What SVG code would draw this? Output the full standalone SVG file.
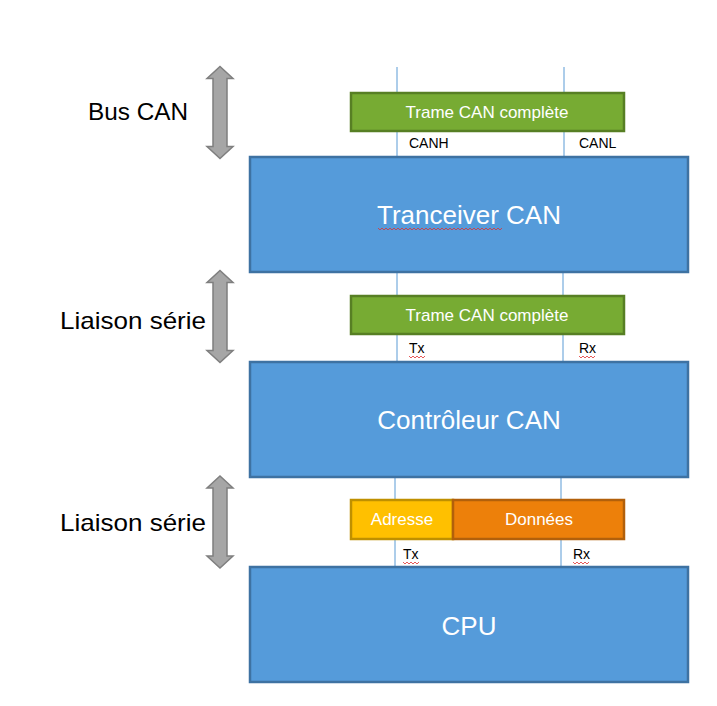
<svg xmlns="http://www.w3.org/2000/svg" width="717" height="706" viewBox="0 0 717 706">
<style>
.blk{fill:#559BDA;stroke:#3E72A2;stroke-width:2.5}
.grn{fill:#77AB33;stroke:#577F24;stroke-width:2.5}
.wire{stroke:#5B9BD5;stroke-width:1;fill:none}
.arr{fill:#A6A6A6;stroke:#7F7F7F;stroke-width:1.5}
.big{font-family:"Liberation Sans",Arial,sans-serif;font-size:26px;fill:#fff;text-anchor:middle}
.mid{font-family:"Liberation Sans",Arial,sans-serif;font-size:17px;fill:#fff;text-anchor:middle}
.sm{font-family:"Liberation Sans",Arial,sans-serif;font-size:14px;fill:#000}
.side{font-family:"Liberation Sans",Arial,sans-serif;font-size:24px;fill:#000}
.sq{fill:none;stroke:#E03030;stroke-width:0.8}
</style>
<defs>
<path id="dbl" d="M0,-46 L13,-34 L7,-34 L7,34 L13,34 L0,46 L-13,34 L-7,34 L-7,-34 L-13,-34 Z"/>
</defs>
<g id="connectors">
<line class="wire" x1="397" y1="67" x2="397" y2="157"/>
<line class="wire" x1="564" y1="67" x2="564" y2="157"/>
<line class="wire" x1="397" y1="272" x2="397" y2="362"/>
<line class="wire" x1="563" y1="272" x2="563" y2="362"/>
<line class="wire" x1="395" y1="477" x2="395" y2="567"/>
<line class="wire" x1="561" y1="477" x2="561" y2="567"/>
</g>
<g id="arrow-bus"><use href="#dbl" class="arr" transform="translate(220,112.5)"/></g>
<g id="arrow-serie1"><use href="#dbl" class="arr" transform="translate(220,316.5)"/></g>
<g id="arrow-serie2"><use href="#dbl" class="arr" transform="translate(220,522)"/></g>
<g id="label-bus"><text class="side" x="88" y="120" textLength="100" lengthAdjust="spacingAndGlyphs">Bus CAN</text></g>
<g id="label-serie1"><text class="side" x="60" y="329" textLength="146" lengthAdjust="spacingAndGlyphs">Liaison série</text></g>
<g id="label-serie2"><text class="side" x="60" y="531" textLength="146" lengthAdjust="spacingAndGlyphs">Liaison série</text></g>
<g id="frame1">
<rect class="grn" x="351" y="93" width="273" height="38"/>
<text class="mid" x="487" y="118">Trame CAN complète</text>
</g>
<g id="pins1">
<text class="sm" x="409" y="148">CANH</text>
<text class="sm" x="579" y="148">CANL</text>
</g>
<g id="tranceiver">
<rect class="blk" x="250" y="157" width="438" height="115"/>
<text class="big" x="469" y="224">Tranceiver CAN</text>
<polyline class="sq" points="378,228 380,230 382,228 384,230 386,228 388,230 390,228 392,230 394,228 396,230 398,228 400,230 402,228 404,230 406,228 408,230 410,228 412,230 414,228 416,230 418,228 420,230 422,228 424,230 426,228 428,230 430,228 432,230 434,228 436,230 438,228 440,230 442,228 444,230 446,228 448,230 450,228 452,230 454,228 456,230 458,228 460,230 462,228 464,230 466,228 468,230 470,228 472,230 474,228 476,230 478,228 480,230 482,228 484,230 486,228 488,230 490,228 492,230 494,228 496,230 498,228 500,230 502,228"/>
</g>
<g id="frame2">
<rect class="grn" x="351" y="296" width="273" height="38"/>
<text class="mid" x="487" y="321">Trame CAN complète</text>
</g>
<g id="pins2">
<text class="sm" x="409" y="353">Tx</text>
<polyline class="sq" points="409,356 411,358 413,356 415,358 417,356 419,358 421,356 423,358 425,356"/>
<text class="sm" x="579" y="353">Rx</text>
<polyline class="sq" points="579,356 581,358 583,356 585,358 587,356 589,358 591,356 593,358 595,356"/>
</g>
<g id="controleur">
<rect class="blk" x="250" y="362" width="438" height="115"/>
<text class="big" x="469" y="429">Contrôleur CAN</text>
</g>
<g id="adresse">
<rect x="351" y="500" width="102" height="39" fill="#FFC000" stroke="#BF9000" stroke-width="2.5"/>
<text class="mid" x="402" y="525">Adresse</text>
</g>
<g id="donnees">
<rect x="453" y="500" width="171" height="39" fill="#ED800A" stroke="#B2600B" stroke-width="2.5"/>
<text class="mid" x="539" y="525">Données</text>
</g>
<g id="pins3">
<text class="sm" x="403" y="559">Tx</text>
<polyline class="sq" points="403,562 405,564 407,562 409,564 411,562 413,564 415,562 417,564 419,562"/>
<text class="sm" x="573" y="559">Rx</text>
<polyline class="sq" points="573,562 575,564 577,562 579,564 581,562 583,564 585,562 587,564 589,562"/>
</g>
<g id="cpu">
<rect class="blk" x="250" y="567" width="438" height="115"/>
<text class="big" x="469" y="635">CPU</text>
</g>
</svg>
